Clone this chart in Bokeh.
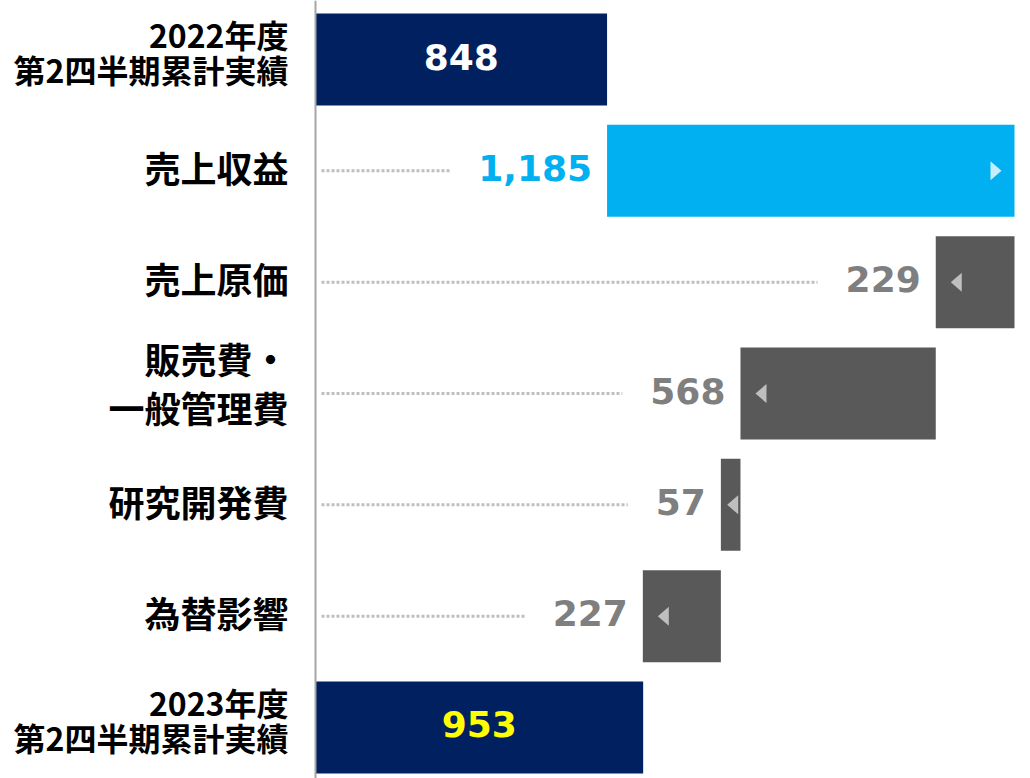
from bokeh.plotting import figure
from bokeh.models import Range1d, Span
from bokeh.core.properties import value
from bokeh.embed import file_html
from bokeh.resources import INLINE

# ---------------- data ----------------
categories = [
    "2022年度\n第2四半期累計実績",
    "売上収益",
    "売上原価",
    "販売費・\n一般管理費",
    "研究開発費",
    "為替影響",
    "2023年度\n第2四半期累計実績",
]
changes = [848, 1185, -229, -568, -57, -227, 953]
kinds = ["total", "up", "down", "down", "down", "down", "total"]
value_labels = ["848", "1,185", "229", "568", "57", "227", "953"]

# ---------------- styling ----------------
NAVY = "#002060"
CYAN = "#00B0F0"
DARK = "#595959"
GREY_TXT = "#7F7F7F"
bar_colors = {"total": NAVY, "up": CYAN, "down": DARK}
label_colors = ["#FFFFFF", CYAN, GREY_TXT, GREY_TXT, GREY_TXT, GREY_TXT, "#FFFF00"]

W, H = 1030, 778
PX = 699 / 2033.0                 # pixels per data unit (x)
X0 = -315 / PX
X1 = 2033 + 16 / PX
PY = 111.33                        # pixels per row
Y_TOP = -59 / PY
Y_BOT = 6 + (H - 727) / PY

# waterfall geometry
rows = list(range(len(categories)))
lefts, rights = [], []
running = 0
for c, k in zip(changes, kinds):
    if k == "total":
        lefts.append(0); rights.append(c); running = c
    elif k == "up":
        lefts.append(running); rights.append(running + c); running += c
    else:
        lefts.append(running + c); rights.append(running); running += c

p = figure(width=W, height=H, x_range=Range1d(X0, X1), y_range=Range1d(Y_BOT, Y_TOP),
           output_backend="svg", toolbar_location=None, min_border=0,
           outline_line_color=None, background_fill_color="white")
p.xaxis.visible = False
p.yaxis.visible = False
p.xgrid.visible = False
p.ygrid.visible = False

# bars
p.hbar(y=rows, left=lefts, right=rights, height=0.826,
       fill_color=[bar_colors[k] for k in kinds], line_color=None)

# vertical base line
p.add_layout(Span(location=0, dimension="height", line_color="#A6A6A6", line_width=2))

# category labels
lab_x = -27 / PX
one_line = [i for i in rows if kinds[i] != "total" and "\n" not in categories[i]]
two_line = [i for i in rows if kinds[i] != "total" and "\n" in categories[i]]
years = [i for i in rows if kinds[i] == "total"]
common = dict(text_align="right", text_baseline="middle",
              text_font=value("Noto Sans CJK JP"), text_font_style="bold",
              text_color="#000000")
p.text(x=[lab_x] * len(one_line), y=[rows[i] for i in one_line],
       text=[categories[i] for i in one_line], y_offset=-4,
       text_font_size="36px", **common)
p.text(x=[lab_x] * len(two_line), y=[rows[i] for i in two_line],
       text=[categories[i] for i in two_line], y_offset=-11,
       text_font_size="36px", text_line_height=0.96, **common)
p.text(x=[lab_x] * len(years), y=[rows[i] for i in years],
       text=[categories[i] for i in years], y_offset=-8,
       text_font_size="32px", text_line_height=0.78, **common)

# value labels
FS = 36
def text_px(s):
    return sum(0.38 * FS if ch == "," else 0.696 * FS for ch in s)

inside = [i for i in rows if kinds[i] == "total"]
outside = [i for i in rows if kinds[i] != "total"]
p.text(x=[(lefts[i] + rights[i]) / 2 for i in inside], y=[rows[i] for i in inside],
       text=[value_labels[i] for i in inside],
       text_color=[label_colors[i] for i in inside], y_offset=-3,
       text_align="center", text_baseline="middle",
       text_font=value("DejaVu Sans"), text_font_style="bold", text_font_size=f"{FS}px")
p.text(x=[lefts[i] for i in outside], y=[rows[i] for i in outside],
       text=[value_labels[i] for i in outside],
       text_color=[label_colors[i] for i in outside],
       x_offset=-15, y_offset=-3, text_align="right", text_baseline="middle",
       text_font=value("DejaVu Sans"), text_font_style="bold", text_font_size=f"{FS}px")

# dotted guide lines
p.segment(x0=[6 / PX] * len(outside), y0=[rows[i] for i in outside],
          x1=[lefts[i] - (15 + text_px(value_labels[i]) + 28) / PX for i in outside],
          y1=[rows[i] for i in outside],
          line_color="#BFBFBF", line_width=3, line_dash="3 2")

# small direction triangles
xs, ys, cols = [], [], []
hh = 9.5 / PY
for i in rows:
    wpx = (rights[i] - lefts[i]) * PX
    if kinds[i] == "up":
        tip = rights[i] - 13 / PX
        base = rights[i] - 24 / PX
        xs.append([base, tip, base]); ys.append([rows[i] - hh, rows[i], rows[i] + hh])
        cols.append("#C5EFFC")
    elif kinds[i] == "down":
        off = 15 if wpx > 45 else (wpx - 11) / 2 + 2
        tip = lefts[i] + off / PX
        base = lefts[i] + (off + 11) / PX
        xs.append([base, tip, base]); ys.append([rows[i] - hh, rows[i], rows[i] + hh])
        cols.append("#BFBFBF")
p.patches(xs=xs, ys=ys, fill_color=cols, line_color=None)

open("out.html", "w").write(file_html(p, INLINE))
